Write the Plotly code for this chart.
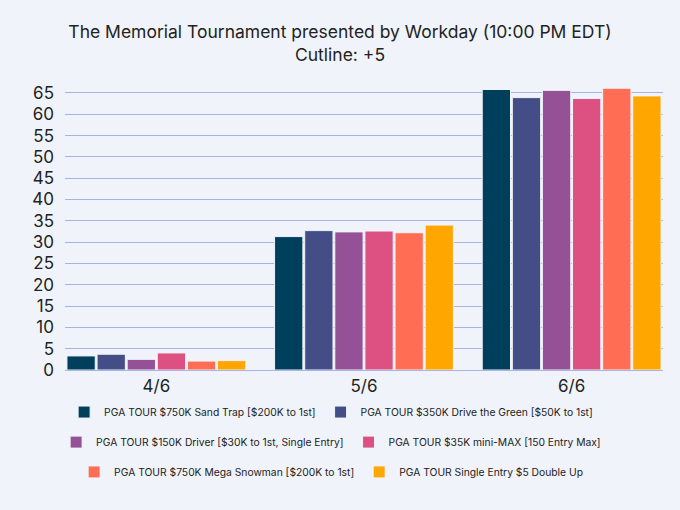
import plotly.graph_objects as go

# ── Data ──────────────────────────────────────────────────────
days = ["4/6", "5/6", "6/6"]

contests = [
    "PGA TOUR $750K Sand Trap [$200K to 1st]",
    "PGA TOUR $350K Drive the Green [$50K to 1st]",
    "PGA TOUR $150K Driver [$30K to 1st, Single Entry]",
    "PGA TOUR $35K mini-MAX [150 Entry Max]",
    "PGA TOUR $750K Mega Snowman [$200K to 1st]",
    "PGA TOUR Single Entry $5 Double Up",
]

sand_trap = [3.3, 31.3, 65.8]
drive_green = [3.7, 32.7, 63.9]
driver = [2.5, 32.4, 65.6]
mini_max = [4.0, 32.6, 63.7]
mega_snowman = [2.1, 32.2, 66.1]
double_up = [2.2, 34.0, 64.3]

series = [sand_trap, drive_green, driver, mini_max, mega_snowman, double_up]
colors = ["#003f5c", "#444e86", "#955196", "#dd5182", "#ff6e54", "#ffa600"]
legend_ids = ["legend", "legend", "legend2", "legend2", "legend3", "legend3"]

BG = "#f0f4fa"
GRID = "#a9b2e6"

fig = go.Figure()
for name, vals, col, lg in zip(contests, series, colors, legend_ids):
    fig.add_trace(go.Bar(
        x=days, y=vals, name=name,
        marker=dict(color=col, line=dict(color=BG, width=1)),
        legend=lg,
    ))

# ── Layout ────────────────────────────────────────────────────
# three centred legend rows, two contests each
leg = dict(orientation="h", xanchor="center", x=0.445,
           yanchor="middle", font=dict(size=10.3, color="#222"),
           bgcolor="rgba(0,0,0,0)")

fig.update_layout(
    width=680, height=510,
    paper_bgcolor=BG, plot_bgcolor=BG,
    font=dict(family="Inter, sans-serif", color="#222"),
    title=dict(
        text="The Memorial Tournament presented by Workday (10:00 PM EDT)<br>Cutline: +5",
        x=0.5, xanchor="center", y=0.925, yanchor="middle",
        font=dict(size=17.5, color="#222"),
    ),
    barmode="group", bargap=0.13, bargroupgap=0.06,
    margin=dict(l=65, r=17, t=78, b=140),
    legend=dict(leg, y=-0.144),
    legend2=dict(leg, y=-0.247),
    legend3=dict(leg, y=-0.349),
)
fig.update_xaxes(range=[-0.44, 2.44], showgrid=False, zeroline=False,
                 tickfont=dict(size=17, color="#222"), ticklabelstandoff=4)
fig.update_yaxes(range=[0, 68.5], dtick=5, gridcolor=GRID, gridwidth=1,
                 zeroline=True, zerolinecolor=GRID, zerolinewidth=1,
                 tickfont=dict(size=17, color="#222"), ticklabelstandoff=10)

# page margin off so the figure fills the window
fig.write_html("out.html", config={"displayModeBar": False},
               post_script="document.body.style.margin='0';")
